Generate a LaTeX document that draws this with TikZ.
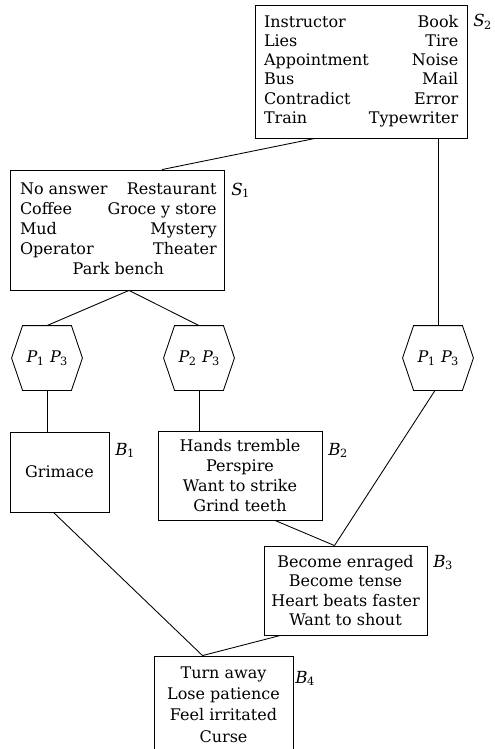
\documentclass[tikz,border=0pt]{standalone}
\usepackage{fontspec}
\setmainfont{DejaVu Serif}
\usetikzlibrary{calc}
% italic letter with an upright subscript digit
\newcommand{\idx}[2]{{\itshape #1}\kern-0.5pt\raisebox{-0.32ex}{\fontsize{8.5}{9}\selectfont #2}}
\begin{document}
\begin{tikzpicture}[x=0.75pt,y=-0.75pt,line width=0.65pt,
  box/.style={draw,rectangle,inner sep=0pt,align=center,font=\fontsize{12}{15}\selectfont},
  hexcore/.style={rectangle,inner sep=0pt,minimum width=36pt,minimum height=48pt,font=\fontsize{12}{14}\selectfont},
  tag/.style={anchor=base west,inner sep=0pt,font=\fontsize{12.5}{14}\selectfont}]
\useasboundingbox (0,0) rectangle (495,749);
\clip (0,0) rectangle (495,749);

% situation boxes
\node[box,minimum width=159pt,minimum height=99.75pt,font=\fontsize{12}{14.4}\selectfont] (S2) at (361,71.5)
  {\begin{tabular*}{145.5pt}{@{}l@{\extracolsep{\fill}}r@{}}
   Instructor & Book\\
   Lies & Tire\\
   Appointment & Noise\\
   Bus & Mail\\
   Contradict & Error\\
   Train & Typewriter
   \end{tabular*}};
\node[box,minimum width=160.5pt,minimum height=90pt] (S1) at (117,230)
  {\begin{tabular*}{145.5pt}{@{}l@{\extracolsep{\fill}}r@{}}
   No answer & Restaurant\\
   Coffee & Groce y store\\
   Mud & Mystery\\
   Operator & Theater\\
   \multicolumn{2}{c}{Park bench}
   \end{tabular*}};

% hexagons
\node[hexcore] (h1) at (47,358) {\idx{P}{1}\hspace{4.5pt}\idx{P}{3}};
\node[hexcore] (h2) at (199,358) {\idx{P}{2}\hspace{4.5pt}\idx{P}{3}};
\node[hexcore] (h3) at (438,358) {\idx{P}{1}\hspace{4.5pt}\idx{P}{3}};
\foreach \h in {h1,h2,h3}
  \draw (\h.north west) -- (\h.north east) -- ($(\h.east)+(11,0)$)
        -- (\h.south east) -- (\h.south west) -- ($(\h.west)+(-11,0)$) -- cycle;

% behaviour boxes
\node[box,minimum width=74.25pt,minimum height=60pt] (B1) at (59.5,472) {Grimace};
\node[box,minimum width=123pt,minimum height=66.75pt] (B2) at (240,475.5)
  {Hands tremble\\Perspire\\Want to strike\\Grind teeth};
\node[box,minimum width=122.25pt,minimum height=66.75pt,font=\fontsize{12}{14.6}\selectfont] (B3) at (345.5,590.5)
  {Become enraged\\Become tense\\Heart beats faster\\Want to shout};
\node[box,minimum width=104.25pt,minimum height=72.75pt,font=\fontsize{12}{16}\selectfont] (B4) at (223.5,704.5)
  {Turn away\\Lose patience\\Feel irritated\\Curse};

% labels
\node[tag] (tS2) at (473,27) {\idx{S}{2}};
\node[tag] (tS1) at (231,195) {\idx{S}{1}};
\node[tag] (tB1) at (115,455) {\idx{B}{1}};
\node[tag] (tB2) at (328,455) {\idx{B}{2}};
\node[tag] (tB3) at (433,567) {\idx{B}{3}};
\node[tag] (tB4) at (295,683) {\idx{B}{4}};

% connectors
\draw ($(S2.south)+(-46,0)$) -- ($(S1.north)+(45,0)$);
\draw (S2.south -| h3.north) -- (h3.north);
\draw ($(S1.south)+(12,0)$) -- (h1.north);
\draw ($(S1.south)+(12,0)$) -- (h2.north);
\draw (h1.south) -- (h1.south |- B1.north);
\draw (h2.south) -- (h2.south |- B2.north);
\draw ($(h3.south)+(-3,0)$) -- ($(B3.north)+(-11,0)$);
\draw ($(B2.south)+(35,0)$) -- ($(B3.north)+(-11,0)$);
\draw ($(B1.south)+(-6,0)$) -- ($(B4.north)+(-21,0)$);
\draw ($(B3.south)+(-65,0)$) -- ($(B4.north)+(-21,0)$);
\end{tikzpicture}
\end{document}
